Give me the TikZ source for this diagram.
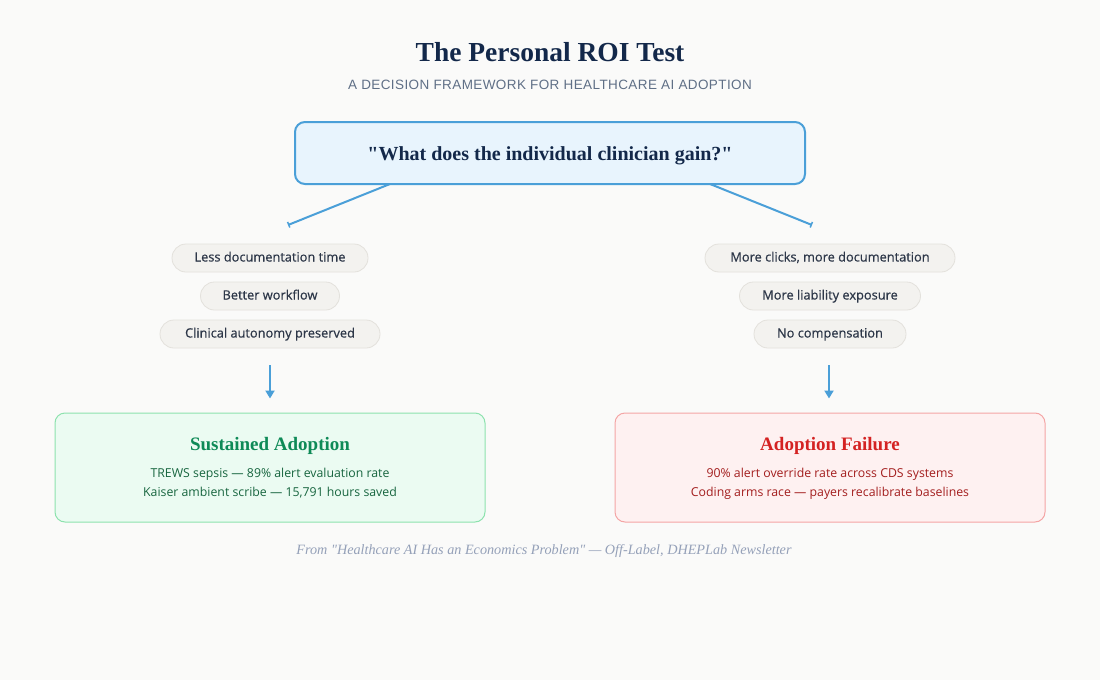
\documentclass[tikz,border=0pt]{standalone}
\usepackage{fontspec}
\setmainfont{Liberation Serif}
\setsansfont{Liberation Sans}
\newfontfamily\pillfont{Open Sans}
\newfontfamily\pillfontm[FakeBold=0.6]{Open Sans}
\usetikzlibrary{arrows.meta}
\definecolor{bg}{HTML}{FAFAF9}
\definecolor{navy}{HTML}{13284A}
\definecolor{subgray}{HTML}{5F6F86}
\definecolor{qfill}{HTML}{E8F4FD}
\definecolor{blue}{HTML}{4A9FD8}
\definecolor{pillfill}{HTML}{F3F2EF}
\definecolor{pilldraw}{HTML}{E3E1DC}
\definecolor{pilltext}{HTML}{2D3748}
\definecolor{gfill}{HTML}{EBFBF2}
\definecolor{gdraw}{HTML}{8DE2AE}
\definecolor{gtitle}{HTML}{0E8A57}
\definecolor{gtext}{HTML}{17653F}
\definecolor{rfill}{HTML}{FEF1F1}
\definecolor{rdraw}{HTML}{F4A5A5}
\definecolor{rtitle}{HTML}{D42222}
\definecolor{rtext}{HTML}{A31E1E}
\definecolor{foot}{HTML}{94A0B8}
\tikzset{
  pill/.style={draw=pilldraw, line width=0.8pt, fill=pillfill, rounded corners=14pt,
    minimum height=28pt, inner sep=0pt, text=pilltext, text height=9.5pt, text depth=2.5pt,
    font=\pillfontm\fontsize{12.8}{14}\selectfont},
  outbox/.style={line width=1pt, rounded corners=10pt, minimum width=430pt, minimum height=109pt, inner sep=0pt},
  boxtitle/.style={font=\bfseries\fontsize{19}{22}\selectfont},
  boxline/.style={font=\pillfont\fontsize{12.3}{14}\selectfont},
  branch/.style={draw=blue, line width=2pt, -{Bar[width=6pt,line width=1.5pt]}},
  down/.style={draw=blue, line width=2pt, -{Triangle[width=9pt,length=8pt]}},
}
\begin{document}
\begin{tikzpicture}[x=1pt,y=-1pt]
\fill[bg] (0,0) rectangle (1100,680);
\useasboundingbox (0,0) rectangle (1100,680);

\node[text=navy, font=\bfseries\fontsize{27.5}{32}\selectfont] (title) at (550,52) {The Personal ROI Test};
\node[text=subgray, font=\sffamily\addfontfeature{LetterSpace=3}\fontsize{13.5}{16}\selectfont] (sub) at (550,85) {A DECISION FRAMEWORK FOR HEALTHCARE AI ADOPTION};

\node[draw=blue, line width=2pt, fill=qfill, rounded corners=10pt, minimum width=510pt, minimum height=62pt, inner sep=0pt,
  text height=17pt, text depth=3pt,
  text=navy, font=\bfseries\fontsize{20}{22}\selectfont] (q) at (550,153) {\textquotedbl What does the individual clinician gain?\textquotedbl};

\coordinate (ql) at (390,184);
\coordinate (qr) at (710,184);
\coordinate (lend) at (288,225);
\coordinate (rend) at (812,225);
\draw[branch] (ql) -- (lend);
\draw[branch] (qr) -- (rend);

\node[pill, minimum width=196pt] (l1) at (270,258) {Less documentation time};
\node[pill, minimum width=139pt] (l2) at (270,296) {Better workflow};
\node[pill, minimum width=220pt] (l3) at (270,334) {Clinical autonomy preserved};

\node[pill, minimum width=250pt] (r1) at (830,258) {More clicks, more documentation};
\node[pill, minimum width=181pt] (r2) at (830,296) {More liability exposure};
\node[pill, minimum width=152pt] (r3) at (830,334) {No compensation};

\node[outbox, draw=gdraw, fill=gfill] (g) at (270,467.5) {};
\node[boxtitle, text=gtitle] (gt) at (270,446) {Sustained Adoption};
\node[boxline, text=gtext] (g1) at (270,474) {TREWS sepsis — 89\% alert evaluation rate};
\node[boxline, text=gtext] (g2) at (270,493) {Kaiser ambient scribe — 15,791 hours saved};

\node[outbox, draw=rdraw, fill=rfill] (r) at (830,467.5) {};
\node[boxtitle, text=rtitle] (rt) at (830,446) {Adoption Failure};
\node[boxline, text=rtext] (r1t) at (830,474) {90\% alert override rate across CDS systems};
\node[boxline, text=rtext] (r2t) at (830,493) {Coding arms race — payers recalibrate baselines};

\draw[down, shorten <=17pt, shorten >=14pt] (l3.south) -- (g.north -| l3.south);
\draw[down, shorten <=17pt, shorten >=14pt] ([xshift=-1pt]r3.south) -- ([xshift=-1pt]r.north -| r3.south);

\node[text=foot, font=\itshape\fontsize{14.2}{16}\selectfont] (ft) at (544,551) {From \textquotedbl Healthcare AI Has an Economics Problem\textquotedbl\ — Off-Label, DHEPLab Newsletter};
\end{tikzpicture}
\end{document}
